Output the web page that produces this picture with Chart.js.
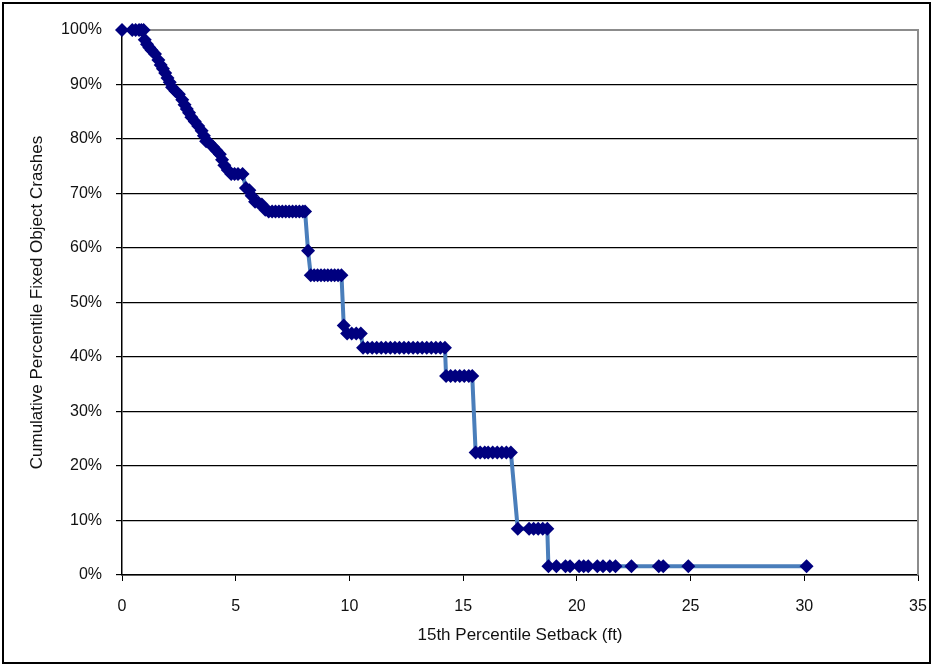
<!DOCTYPE html>
<html>
<head>
<meta charset="utf-8">
<script src="https://cdn.jsdelivr.net/npm/chart.js@4"></script>
<style>
    body { margin: 0; background: #fff; }
    #chart1 { display: block; }
</style>
</head>
<body>
<canvas id="chart1" width="934" height="668"></canvas>
<script>
const setbackFt = [
    0, 0.45, 0.6, 0.75, 0.85, 0.95,
    1.0, 1.1, 1.2, 1.3, 1.45, 1.6, 1.7, 1.8, 1.9, 2.0, 2.1, 2.2, 2.35, 2.5, 2.65, 2.75, 2.85, 2.95,
    3.05, 3.2, 3.35, 3.5, 3.6, 3.7, 3.85, 4.0, 4.15, 4.3, 4.4, 4.5, 4.65, 4.8, 4.95, 5.1, 5.3,
    5.45, 5.6, 5.7, 5.85, 6.0, 6.15, 6.3, 6.45, 6.6, 6.75, 6.9, 7.05, 7.2, 7.35, 7.5, 7.65, 7.8, 7.95, 8.05,
    8.18, 8.3, 8.45, 8.6, 8.75, 8.9, 9.05, 9.2, 9.35, 9.5, 9.65,
    9.75, 9.9, 10.1, 10.3, 10.5,
    10.6, 10.8, 11.0, 11.2, 11.4, 11.6, 11.8, 12.0, 12.2, 12.4, 12.6, 12.8, 13.0, 13.2, 13.4, 13.6, 13.8, 14.0, 14.2,
    14.25, 14.45, 14.65, 14.85, 15.05, 15.25, 15.4,
    15.55, 15.75, 15.95, 16.1, 16.3, 16.5, 16.7, 16.9, 17.1,
    17.4, 17.9, 18.1, 18.3, 18.5, 18.7,
    18.75, 19.1, 19.5, 19.7, 20.1, 20.3, 20.5, 20.9, 21.15, 21.45, 21.7, 22.4, 23.6, 23.8, 24.9, 30.1
]
const cumulativePct = [
    100, 100, 100, 100, 100, 100,
    98.2, 97.4, 96.8, 96.3, 95.6, 94.5, 93.6, 92.9, 92.1, 91.2, 90.4, 89.5, 88.8, 88.2, 87.2, 86.3, 85.5, 84.8,
    84.0, 83.2, 82.4, 81.5, 80.6, 79.6, 79.2, 78.6, 77.9, 77.2, 76.2, 75.2, 74.3, 73.6, 73.6, 73.6, 73.6,
    71.0, 70.6, 69.6, 68.5, 68.3, 68.0, 67.0, 66.7, 66.7, 66.7, 66.7, 66.7, 66.7, 66.7, 66.7, 66.7, 66.7, 66.7, 66.7,
    59.5, 55.0, 55.0, 55.0, 55.0, 55.0, 55.0, 55.0, 55.0, 55.0, 55.0,
    45.8, 44.3, 44.3, 44.3, 44.3,
    41.7, 41.7, 41.7, 41.7, 41.7, 41.7, 41.7, 41.7, 41.7, 41.7, 41.7, 41.7, 41.7, 41.7, 41.7, 41.7, 41.7, 41.7, 41.7,
    36.5, 36.5, 36.5, 36.5, 36.5, 36.5, 36.5,
    22.5, 22.5, 22.5, 22.5, 22.5, 22.5, 22.5, 22.5, 22.5,
    8.5, 8.5, 8.5, 8.5, 8.5, 8.5,
    1.6, 1.6, 1.6, 1.6, 1.6, 1.6, 1.6, 1.6, 1.6, 1.6, 1.6, 1.6, 1.6, 1.6, 1.6, 1.6
]
const xTicks = [0, 5, 10, 15, 20, 25, 30, 35]
const yTicks = [0, 10, 20, 30, 40, 50, 60, 70, 80, 90, 100]

const chart1div = document.getElementById("chart1")

// frame around the whole picture and grey plot border
const framePlugin = {
    id: "frame",
    beforeDatasetsDraw(chart) {
        const { ctx, chartArea } = chart
        ctx.save()
        ctx.strokeStyle = "#8c8c8c"
        ctx.lineWidth = 2
        ctx.beginPath()
        ctx.moveTo(chartArea.left, chartArea.top)
        ctx.lineTo(chartArea.right, chartArea.top)
        ctx.lineTo(chartArea.right, chartArea.bottom)
        ctx.stroke()
        ctx.restore()
    },
    afterDraw(chart) {
        const ctx = chart.ctx
        ctx.save()
        ctx.strokeStyle = "#000"
        ctx.lineWidth = 2
        ctx.strokeRect(3, 3, 927, 660)
        ctx.restore()
    }
}

new Chart(chart1div, {
    type: "scatter",
    data: {
        datasets: [{
            data: setbackFt.map((x, i) => ({ x: x, y: cumulativePct[i] })),
            showLine: true,
            clip: false,
            borderColor: "#4a7ebb",
            borderWidth: 4,
            tension: 0,
            pointStyle: "rectRot",
            pointRadius: 7,
            pointBackgroundColor: "#00007f",
            pointBorderColor: "#00007f",
            pointBorderWidth: 0
        }]
    },
    plugins: [framePlugin],
    options: {
        responsive: false,
        animation: false,
        layout: { padding: { top: 30, right: 16, left: 0, bottom: 0 } },
        plugins: {
            legend: { display: false },
            tooltip: { enabled: false }
        },
        scales: {
            x: {
                type: "linear",
                min: 0,
                max: 35,
                afterBuildTicks: (scale) => { scale.ticks = xTicks.map(v => ({ value: v })) },
                afterFit: (scale) => {
                    scale.height = 93
                    scale.paddingLeft = 0
                    scale.paddingRight = 0
                },
                border: { color: "#000", width: 1.5 },
                grid: { drawOnChartArea: false, drawTicks: true, tickLength: 6, color: "#000" },
                ticks: {
                    color: "#111",
                    font: { family: "Liberation Sans", size: 16 },
                    padding: 16,
                    maxRotation: 0
                },
                title: {
                    display: true,
                    text: "15th Percentile Setback (ft)",
                    color: "#111",
                    font: { family: "Liberation Sans", size: 17 },
                    padding: { top: 0, bottom: 22 }
                }
            },
            y: {
                min: 0,
                max: 100,
                afterBuildTicks: (scale) => { scale.ticks = yTicks.map(v => ({ value: v })) },
                afterFit: (scale) => {
                    scale.width = 122
                    scale.paddingTop = 0
                    scale.paddingBottom = 0
                },
                border: { color: "#000", width: 1.5 },
                grid: {
                    color: (c) => c.tick && c.tick.value === 100 ? "#8c8c8c" : "#000",
                    lineWidth: 1.2,
                    drawTicks: true,
                    tickLength: 6
                },
                ticks: {
                    color: "#111",
                    font: { family: "Liberation Sans", size: 16 },
                    padding: 14,
                    callback: (v) => v + "%"
                },
                title: {
                    display: true,
                    text: "Cumulative Percentile Fixed Object Crashes",
                    color: "#111",
                    font: { family: "Liberation Sans", size: 17 },
                    padding: { top: 27, bottom: 0 }
                }
            }
        }
    }
})
</script>
</body>
</html>
